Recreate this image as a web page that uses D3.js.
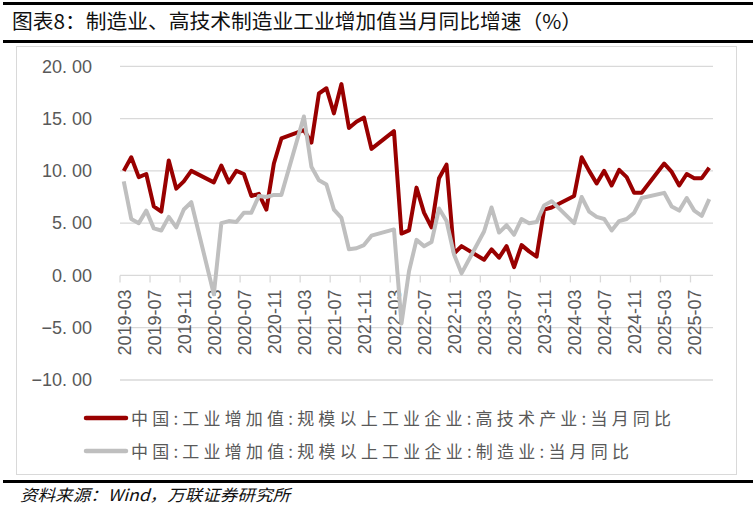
<!DOCTYPE html>
<html>
<head>
<meta charset="utf-8">
<script src="https://cdn.jsdelivr.net/npm/d3@7"></script>
<style>
  body { margin: 0; background: #fff; }
</style>
</head>
<body>
<div id="chart"></div>
<script>
// months 2019-03 .. 2025-09 (Jan/Feb have no monthly value)
const months = d3.utcMonth.range(new Date(Date.UTC(2019, 2, 1)), new Date(Date.UTC(2025, 9, 1)))
  .map(d3.utcFormat("%Y-%m"))

const hiTech = [
  10.0, 11.3, 9.4, 9.7, 6.6, 6.1, 11.0, 8.3, 9.0, 10.0,
  null, null, 8.9, 10.5, 8.9, 10.0, 9.7, 7.6, 7.8, 6.3, 10.7, 13.1,
  null, null, 13.9, 12.7, 17.4, 17.9, 15.5, 18.3, 14.1, 14.7, 15.1, 12.1,
  null, null, 13.8, 4.0, 4.3, 8.4, 6.0, 4.6, 9.3, 10.6, 2.1, 2.8,
  null, null, 1.5, 2.5, 1.7, 2.8, 0.8, 2.9, 2.3, 1.8, 6.3, 6.5,
  null, null, 7.6, 11.3, 10.0, 8.8, 10.0, 8.6, 10.1, 9.4, 7.9, 7.9,
  null, null, 10.7, 9.9, 8.6, 9.7, 9.3, 9.3, 10.3
]

const manuf = [
  9.0, 5.4, 5.0, 6.2, 4.5, 4.3, 5.6, 4.6, 6.3, 7.0,
  null, null, -1.8, 5.0, 5.2, 5.1, 6.0, 6.0, 7.6, 7.5, 7.7, 7.7,
  null, null, 15.2, 10.4, 9.1, 8.7, 6.3, 5.5, 2.5, 2.6, 2.9, 3.8,
  null, null, 4.4, -4.6, 0.4, 3.4, 2.8, 3.2, 6.4, 5.2, 2.0, 0.2,
  null, null, 4.2, 6.5, 4.1, 4.8, 3.9, 5.4, 5.0, 5.1, 6.7, 7.1,
  null, null, 5.0, 7.5, 6.1, 5.6, 5.4, 4.3, 5.2, 5.4, 6.0, 7.4,
  null, null, 7.9, 6.6, 6.2, 7.4, 6.2, 5.7, 7.3
]

const yTicks = [-10, -5, 0, 5, 10, 15, 20]

const seriesNames = [
  "中国:工业增加值:规模以上工业企业:高技术产业:当月同比",
  "中国:工业增加值:规模以上工业企业:制造业:当月同比"
]
const colors = ["#990000", "#bfbfbf"]

const title = "图表8：制造业、高技术制造业工业增加值当月同比增速（%）"
const source = "资料来源：Wind，万联证券研究所"

const W = 755, H = 512
const svg = d3.select("#chart").append("svg")
  .attr("width", W)
  .attr("height", H)

// header / footer rules
svg.append("rect").attr("x", 3).attr("y", 2).attr("width", 750).attr("height", 3).attr("fill", "#000")
svg.append("rect").attr("x", 3).attr("y", 40).attr("width", 750).attr("height", 3).attr("fill", "#000")
svg.append("rect").attr("x", 3).attr("y", 480).attr("width", 750).attr("height", 3).attr("fill", "#000")

svg.append("text")
  .attr("x", 12).attr("y", 29)
  .attr("textLength", 570).attr("lengthAdjust", "spacingAndGlyphs")
  .style("font-family", "'Noto Sans CJK SC'")
  .style("font-size", "20px")
  .style("fill", "#111")
  .text(title)

// chart frame
svg.append("rect")
  .attr("x", 16.5).attr("y", 46.5).attr("width", 720).attr("height", 428)
  .attr("fill", "#fff").attr("stroke", "#d9d9d9")

const x = d3.scaleBand().domain(months).range([120, 713]).padding(0)
const y = d3.scaleLinear().domain([-10, 20]).range([380, 66.3])
const cx = m => x(m) + x.bandwidth() / 2

// gridlines
svg.append("g").selectAll("line")
  .data(yTicks.filter(d => d !== 0))
  .enter().append("line")
  .attr("x1", 120).attr("x2", 713)
  .attr("y1", d => y(d)).attr("y2", d => y(d))
  .attr("stroke", "#d9d9d9").attr("stroke-width", 1.3)

// y labels
const fmt = d3.format(".2f")
const yl = svg.append("g").selectAll("text")
  .data(yTicks)
  .enter().append("text")
  .attr("x", 92).attr("y", d => y(d))
  .attr("dy", "0.35em")
  .attr("text-anchor", "end")
  .style("font-family", "'Liberation Sans', Arial")
  .style("font-size", "18px")
  .style("fill", "#595959")
yl.each(function(d) {
  const parts = fmt(d).split(".")
  const t = d3.select(this)
  t.append("tspan").text(parts[0] + ".")
  t.append("tspan").attr("dx", 5).text(parts[1])
})

// x axis at zero
const xAxis = svg.append("g").attr("transform", `translate(0,${y(0)})`)
xAxis.append("line").attr("x1", 120).attr("x2", 713)
  .attr("stroke", "#d9d9d9").attr("stroke-width", 1.3)
const tickMonths = months.filter((m, i) => i % 4 === 0)
xAxis.selectAll("line.tick")
  .data(tickMonths)
  .enter().append("line")
  .attr("class", "tick")
  .attr("x1", d => x(d)).attr("x2", d => x(d))
  .attr("y1", 0).attr("y2", 7)
  .attr("stroke", "#d9d9d9").attr("stroke-width", 1.3)
xAxis.selectAll("text")
  .data(tickMonths)
  .enter().append("text")
  .attr("transform", d => `translate(${cx(d) + 0.8},14) rotate(-90)`)
  .attr("dy", "0.35em")
  .attr("text-anchor", "end")
  .style("font-family", "'Liberation Sans', Arial")
  .style("font-size", "18px")
  .style("fill", "#595959")
  .text(d => d)

// lines (gaps for Jan/Feb are bridged)
const line = d3.line().x(d => cx(d.m)).y(d => y(d.v))
const series = [hiTech, manuf].map(vals =>
  months.map((m, i) => ({m: m, v: vals[i]})).filter(d => d.v !== null))

svg.append("g").selectAll("path")
  .data(series)
  .enter().append("path")
  .attr("d", line)
  .attr("fill", "none")
  .attr("stroke", (d, i) => colors[i])
  .attr("stroke-width", 4)
  .attr("stroke-linejoin", "round")

// legend
const legendY = [418, 451]
const legendLen = [540, 498]
seriesNames.forEach((name, i) => {
  svg.append("line")
    .attr("x1", 86).attr("x2", 126)
    .attr("y1", legendY[i]).attr("y2", legendY[i])
    .attr("stroke", colors[i]).attr("stroke-width", 4.5)
    .attr("stroke-linecap", "round")
  svg.append("text")
    .attr("x", 131).attr("y", legendY[i] + 6.5)
    .attr("textLength", legendLen[i]).attr("lengthAdjust", "spacing")
    .style("font-family", "'Noto Sans CJK SC'")
    .style("font-size", "17px")
    .style("fill", "#595959")
    .text(name)
})

svg.append("text")
  .attr("x", 20).attr("y", 501)
  .attr("textLength", 270).attr("lengthAdjust", "spacingAndGlyphs")
  .style("font-family", "'Noto Sans CJK SC'")
  .style("font-size", "16px")
  .style("font-style", "italic")
  .style("fill", "#111")
  .text(source)
</script>
</body>
</html>
